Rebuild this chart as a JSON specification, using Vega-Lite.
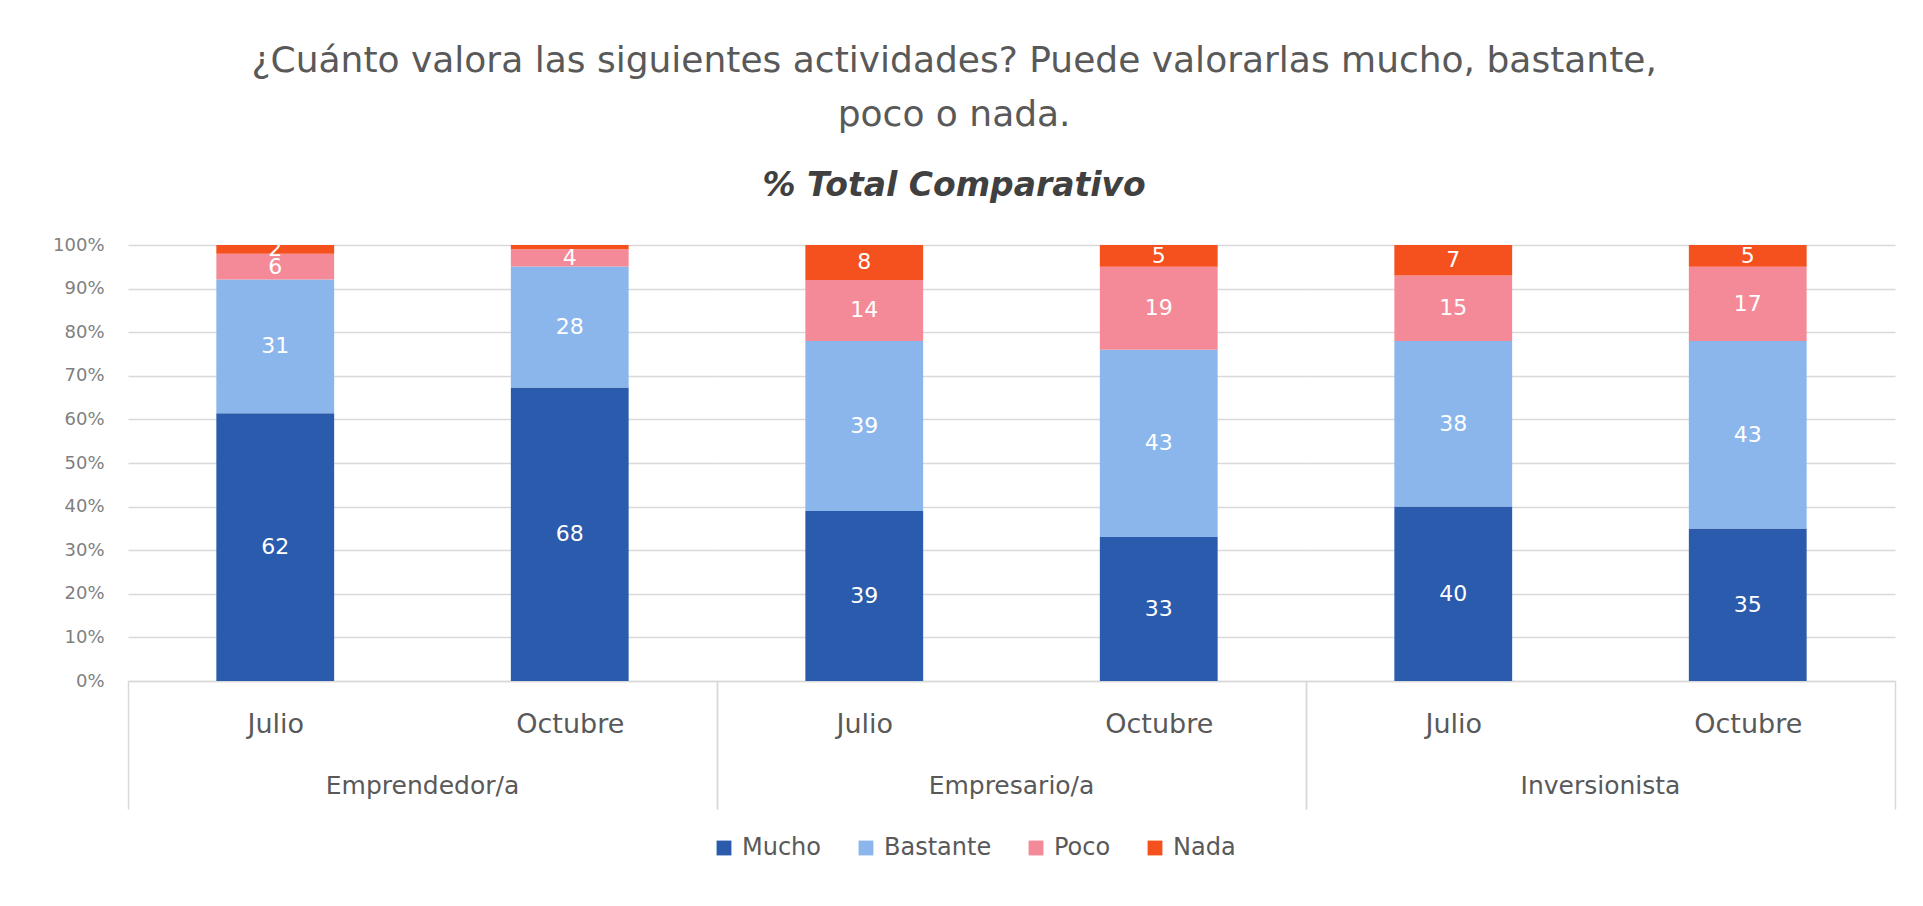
{
  "$schema": "https://vega.github.io/schema/vega-lite/v6.json",
  "background": "#ffffff",
  "padding": {"left": 52, "top": 43, "right": 20, "bottom": 10},
  "title": {
    "text": ["¿Cuánto valora las siguientes actividades? Puede valorarlas mucho, bastante,", "poco o nada."],
    "subtitle": "% Total Comparativo",
    "anchor": "middle",
    "dx": -20,
    "font": "DejaVu Sans",
    "fontSize": 36,
    "fontWeight": "normal",
    "color": "#595959",
    "lineHeight": 54,
    "subtitleFont": "DejaVu Sans",
    "subtitleFontSize": 33,
    "subtitleFontWeight": "bold",
    "subtitleFontStyle": "italic",
    "subtitleColor": "#404040",
    "subtitlePadding": 36,
    "offset": 32
  },
  "data": {
    "values": [
      {"grupo": "Emprendedor/a", "mes": "Julio", "nivel": "Mucho", "o": 1, "valor": 62},
      {"grupo": "Emprendedor/a", "mes": "Julio", "nivel": "Bastante", "o": 2, "valor": 31},
      {"grupo": "Emprendedor/a", "mes": "Julio", "nivel": "Poco", "o": 3, "valor": 6},
      {"grupo": "Emprendedor/a", "mes": "Julio", "nivel": "Nada", "o": 4, "valor": 2},
      {"grupo": "Emprendedor/a", "mes": "Octubre", "nivel": "Mucho", "o": 1, "valor": 68},
      {"grupo": "Emprendedor/a", "mes": "Octubre", "nivel": "Bastante", "o": 2, "valor": 28},
      {"grupo": "Emprendedor/a", "mes": "Octubre", "nivel": "Poco", "o": 3, "valor": 4},
      {"grupo": "Emprendedor/a", "mes": "Octubre", "nivel": "Nada", "o": 4, "valor": 1},
      {"grupo": "Empresario/a", "mes": "Julio", "nivel": "Mucho", "o": 1, "valor": 39},
      {"grupo": "Empresario/a", "mes": "Julio", "nivel": "Bastante", "o": 2, "valor": 39},
      {"grupo": "Empresario/a", "mes": "Julio", "nivel": "Poco", "o": 3, "valor": 14},
      {"grupo": "Empresario/a", "mes": "Julio", "nivel": "Nada", "o": 4, "valor": 8},
      {"grupo": "Empresario/a", "mes": "Octubre", "nivel": "Mucho", "o": 1, "valor": 33},
      {"grupo": "Empresario/a", "mes": "Octubre", "nivel": "Bastante", "o": 2, "valor": 43},
      {"grupo": "Empresario/a", "mes": "Octubre", "nivel": "Poco", "o": 3, "valor": 19},
      {"grupo": "Empresario/a", "mes": "Octubre", "nivel": "Nada", "o": 4, "valor": 5},
      {"grupo": "Inversionista", "mes": "Julio", "nivel": "Mucho", "o": 1, "valor": 40},
      {"grupo": "Inversionista", "mes": "Julio", "nivel": "Bastante", "o": 2, "valor": 38},
      {"grupo": "Inversionista", "mes": "Julio", "nivel": "Poco", "o": 3, "valor": 15},
      {"grupo": "Inversionista", "mes": "Julio", "nivel": "Nada", "o": 4, "valor": 7},
      {"grupo": "Inversionista", "mes": "Octubre", "nivel": "Mucho", "o": 1, "valor": 35},
      {"grupo": "Inversionista", "mes": "Octubre", "nivel": "Bastante", "o": 2, "valor": 43},
      {"grupo": "Inversionista", "mes": "Octubre", "nivel": "Poco", "o": 3, "valor": 17},
      {"grupo": "Inversionista", "mes": "Octubre", "nivel": "Nada", "o": 4, "valor": 5}
    ]
  },
  "facet": {
    "column": {
      "field": "grupo",
      "type": "nominal",
      "sort": ["Emprendedor/a", "Empresario/a", "Inversionista"],
      "header": {
        "title": null,
        "labelOrient": "bottom",
        "labelFont": "DejaVu Sans",
        "labelFontSize": 25,
        "labelColor": "#595959",
        "labelPadding": -36
      }
    }
  },
  "spacing": 0,
  "spec": {
    "width": 589,
    "height": 436,
    "layer": [
      {
        "mark": {"type": "bar", "width": {"band": 0.4}},
        "encoding": {
          "x": {
            "field": "mes",
            "type": "nominal",
            "sort": ["Julio", "Octubre"],
            "scale": {"paddingInner": 0, "paddingOuter": 0},
            "axis": {
              "title": null,
              "labelAngle": 0,
              "ticks": true,
              "tickBand": "extent",
              "tickSize": 128,
              "tickWidth": 1.5,
              "tickColor": {"condition": {"test": "datum.value == 'Julio'", "value": "rgba(0,0,0,0)"}, "value": "#d9d9d9"},
              "labelPadding": -98,
              "labelFont": "DejaVu Sans",
              "labelFontSize": 27,
              "labelColor": "#595959",
              "domainColor": "#d9d9d9",
              "domainWidth": 1.5,
              "grid": false
            }
          },
          "y": {
            "field": "valor",
            "type": "quantitative",
            "stack": "normalize",
            "scale": {"domain": [0, 1]},
            "axis": {
              "title": null,
              "format": ".0%",
              "values": [0, 0.1, 0.2, 0.3, 0.4, 0.5, 0.6, 0.7, 0.8, 0.9, 1],
              "ticks": false,
              "domain": false,
              "labelPadding": 24,
              "labelFont": "DejaVu Sans",
              "labelFontSize": 18,
              "labelColor": "#7f7f7f",
              "gridColor": "#d9d9d9",
              "gridWidth": 1.5
            }
          },
          "color": {
            "field": "nivel",
            "type": "nominal",
            "sort": ["Mucho", "Bastante", "Poco", "Nada"],
            "scale": {
              "domain": ["Mucho", "Bastante", "Poco", "Nada"],
              "range": ["#2B5BAC", "#8AB6EB", "#F48A97", "#F4511E"]
            },
            "legend": {
              "title": null,
              "orient": "bottom",
              "direction": "horizontal",
              "symbolType": "square",
              "symbolSize": 220,
              "symbolStrokeWidth": 0,
              "labelFont": "DejaVu Sans",
              "labelFontSize": 24,
              "labelColor": "#595959",
              "labelOffset": 6,
              "columnPadding": 32,
              "offset": 26
            }
          },
          "order": {"field": "o", "type": "quantitative"}
        }
      },
      {
        "mark": {"type": "text", "font": "DejaVu Sans", "fontSize": 22, "color": "#ffffff"},
        "encoding": {
          "x": {"field": "mes", "type": "nominal", "sort": ["Julio", "Octubre"]},
          "y": {"field": "valor", "type": "quantitative", "stack": "normalize", "bandPosition": 0.5, "scale": {"domain": [0, 1]}},
          "order": {"field": "o", "type": "quantitative"},
          "text": {"condition": {"test": "datum.valor < 2", "value": ""}, "field": "valor", "type": "quantitative"}
        }
      }
    ]
  },
  "config": {
    "view": {"stroke": null},
    "legend": {"layout": {"bottom": {"anchor": "middle"}}}
  }
}
